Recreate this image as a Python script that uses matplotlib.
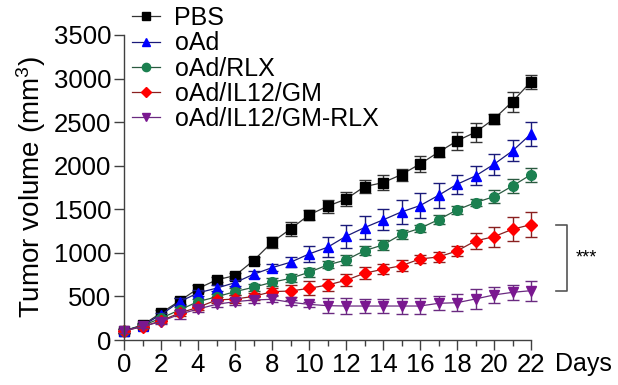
import matplotlib
matplotlib.use("Agg")
import matplotlib.pyplot as plt
from matplotlib.lines import Line2D
import numpy as np

plt.rcParams['font.family'] = ['Liberation Sans', 'DejaVu Sans']
plt.rcParams['mathtext.fontset'] = 'custom'
plt.rcParams['mathtext.rm'] = 'Liberation Sans'
plt.rcParams['mathtext.it'] = 'Liberation Sans'

days = list(range(23))
labels = ["PBS", "oAd", "oAd/RLX", "oAd/IL12/GM", "oAd/IL12/GM-RLX"]

pbs = [105, 172, 310, 448, 590, 690, 739, 911, 1121, 1274, 1435, 1535, 1617, 1760, 1806, 1898, 2020, 2155, 2285, 2385, 2537, 2736, 2965]
pbs_err = [20, 25, 30, 35, 40, 30, 30, 40, 60, 76, 60, 76, 85, 75, 85, 70, 95, 50, 105, 110, 60, 115, 80]

oad = [105, 165, 290, 438, 540, 595, 658, 754, 830, 892, 987, 1064, 1190, 1290, 1378, 1470, 1542, 1660, 1787, 1883, 2017, 2170, 2365]
oad_err = [20, 20, 25, 40, 30, 35, 35, 40, 40, 57, 95, 115, 130, 135, 120, 135, 145, 140, 110, 110, 120, 120, 135]

rlx = [105, 165, 250, 345, 440, 495, 555, 605, 662, 708, 777, 861, 918, 1025, 1091, 1213, 1282, 1381, 1493, 1577, 1645, 1768, 1898]
rlx_err = [20, 20, 25, 35, 35, 35, 40, 40, 45, 45, 50, 40, 60, 50, 55, 55, 40, 55, 50, 40, 75, 85, 80]

gm = [105, 153, 220, 310, 375, 459, 470, 500, 555, 562, 593, 631, 685, 766, 812, 853, 930, 953, 1022, 1137, 1186, 1271, 1324]
gm_err = [20, 20, 25, 40, 30, 40, 45, 45, 40, 65, 80, 70, 70, 70, 55, 60, 50, 55, 60, 95, 115, 140, 145]

gmrlx = [105, 155, 212, 295, 355, 410, 440, 459, 467, 433, 409, 394, 390, 390, 390, 390, 390, 421, 428, 471, 517, 547, 566]
gmrlx_err = [20, 20, 25, 55, 30, 35, 40, 40, 35, 30, 30, 85, 90, 80, 80, 90, 90, 80, 100, 110, 95, 85, 115]

yticks = [0, 500, 1000, 1500, 2000, 2500, 3000, 3500]
xticks = list(range(0, 23, 2))

series = [pbs, oad, rlx, gm, gmrlx]
errors = [pbs_err, oad_err, rlx_err, gm_err, gmrlx_err]
markers = ['s', '^', 'o', 'D', 'v']
msizes = [7.5, 7.5, 7, 6.5, 7.5]
mcolors = ['#000000', '#0000ff', '#1b8050', '#ff0000', '#7a1890']
lcolors = ['#333333', '#1a1a7a', '#2a5a40', '#8a2020', '#6a2a80']

fig = plt.figure(figsize=(6.18, 3.85), dpi=100)
ax = fig.add_axes([124/618, 1-340/385, (531-124)/618, (340-35)/385])

for y, e, m, ms, mc, lc in zip(series, errors, markers, msizes, mcolors, lcolors):
    ax.errorbar(days, y, yerr=e, fmt='none', ecolor=lc, elinewidth=1.0,
                capsize=4, capthick=1.0, clip_on=False)
    ax.plot(days, y, color=lc, lw=0.9, marker=m, ms=ms, mfc=mc, mec=mc,
            clip_on=False)

ax.set_xlim(0, 22)
ax.set_ylim(0, 3500)
ax.set_xticks(xticks)
ax.set_xticks(days, minor=True)
ax.set_yticks(yticks)
ax.tick_params(axis='both', labelsize=18.5, direction='out', color='#404040',
               width=1.0, pad=2)
ax.tick_params(axis='x', which='major', length=7)
ax.tick_params(axis='x', which='minor', length=4, width=1.0, color='#404040')
ax.tick_params(axis='y', length=7)
for s in ['top', 'right']:
    ax.spines[s].set_visible(False)
for s in ['left', 'bottom']:
    ax.spines[s].set_color('#404040')
    ax.spines[s].set_linewidth(1.0)

ax.set_ylabel('Tumor volume (mm$^3$)', fontsize=20, labelpad=4)
ax.annotate('Days', xy=(23.3, 0), xycoords=('data', 'axes fraction'),
            xytext=(0, -9), textcoords='offset points',
            fontsize=18, ha='left', va='top', annotation_clip=False)

# significance bracket
bx = 23.95
ax.plot([bx - 0.6, bx, bx, bx - 0.6], [gm[-1], gm[-1], gmrlx[-1], gmrlx[-1]],
        color='#555555', lw=1.2, clip_on=False)
ax.text(bx + 0.45, (gm[-1] + gmrlx[-1]) / 2, '***', fontsize=13,
        ha='left', va='center')

handles = [Line2D([], [], color=lc, lw=0.9, marker=m, ms=ms * 0.85, mfc=mc, mec=mc)
           for m, ms, mc, lc in zip(markers, msizes, mcolors, lcolors)]
fig.legend(handles, labels, loc='upper left', bbox_to_anchor=(132/618, 1 - 6/385),
           frameon=False, fontsize=18, handlelength=1.1, handletextpad=0.6,
           labelspacing=0.05, borderpad=0, borderaxespad=0)

fig.savefig('out.png', dpi=100)
